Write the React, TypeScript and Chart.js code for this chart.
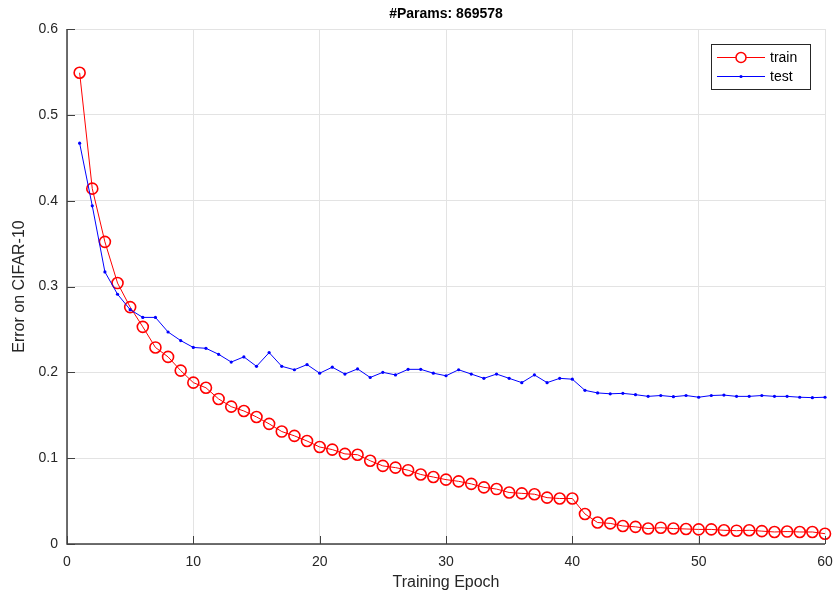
import React, { useEffect, useRef } from "react";
import { Chart, registerables } from "chart.js";

Chart.register(...registerables);

const epochs = [
  1, 2, 3, 4, 5, 6, 7, 8, 9, 10, 11, 12, 13, 14, 15, 16, 17, 18, 19, 20,
  21, 22, 23, 24, 25, 26, 27, 28, 29, 30, 31, 32, 33, 34, 35, 36, 37, 38, 39, 40,
  41, 42, 43, 44, 45, 46, 47, 48, 49, 50, 51, 52, 53, 54, 55, 56, 57, 58, 59, 60,
];

const trainError = [
  0.549, 0.414, 0.352, 0.304, 0.276, 0.253, 0.229, 0.218, 0.202, 0.188,
  0.182, 0.169, 0.160, 0.155, 0.148, 0.140, 0.131, 0.126, 0.120, 0.113,
  0.110, 0.105, 0.104, 0.097, 0.091, 0.089, 0.086, 0.081, 0.078, 0.075,
  0.073, 0.070, 0.066, 0.064, 0.060, 0.059, 0.058, 0.054, 0.053, 0.053,
  0.035, 0.025, 0.024, 0.021, 0.020, 0.018, 0.019, 0.018, 0.0175, 0.017,
  0.017, 0.016, 0.0155, 0.016, 0.015, 0.014, 0.0145, 0.014, 0.014, 0.012,
];

const testError = [
  0.467, 0.394, 0.317, 0.291, 0.273, 0.264, 0.264, 0.247, 0.237, 0.229,
  0.228, 0.221, 0.212, 0.218, 0.207, 0.223, 0.207, 0.203, 0.209, 0.199,
  0.206, 0.198, 0.204, 0.194, 0.200, 0.197, 0.2035, 0.2035, 0.199, 0.196,
  0.203, 0.198, 0.193, 0.198, 0.193, 0.188, 0.197, 0.188, 0.193, 0.192,
  0.179, 0.176, 0.175, 0.1755, 0.174, 0.172, 0.173, 0.1716, 0.173, 0.171,
  0.173, 0.1735, 0.172, 0.172, 0.173, 0.172, 0.172, 0.171, 0.1705, 0.171,
];

const xTicks = [0, 10, 20, 30, 40, 50, 60];
const yTicks = [0, 0.1, 0.2, 0.3, 0.4, 0.5, 0.6];

const titleText = "#Params: 869578";
const xLabel = "Training Epoch";
const yLabel = "Error on CIFAR-10";
const seriesNames = ["train", "test"];

const FONT = "'Liberation Sans', Arial, Helvetica, sans-serif";
const TEXT = "#262626";

const decorPlugin = {
  id: "decor",
  afterDraw(chart: any) {
    const ctx = chart.ctx as CanvasRenderingContext2D;
    const area = chart.chartArea;
    const xs = chart.scales.x;
    const ys = chart.scales.y;
    ctx.save();
    // axis lines
    ctx.strokeStyle = "#404040";
    ctx.lineWidth = 1.5;
    ctx.beginPath();
    ctx.moveTo(area.left, area.top);
    ctx.lineTo(area.left, area.bottom);
    ctx.lineTo(area.right, area.bottom);
    ctx.stroke();
    // inward ticks
    ctx.lineWidth = 1;
    ctx.strokeStyle = "#404040";
    ctx.beginPath();
    for (const v of yTicks) {
      const py = Math.round(ys.getPixelForValue(v)) + 0.5;
      ctx.moveTo(area.left, py);
      ctx.lineTo(area.left + 8, py);
    }
    for (const v of xTicks) {
      const px = Math.round(xs.getPixelForValue(v)) + 0.5;
      ctx.moveTo(px, area.bottom);
      ctx.lineTo(px, area.bottom - 8);
    }
    ctx.stroke();
    // title
    ctx.fillStyle = "#000";
    ctx.font = `bold 14px ${FONT}`;
    ctx.textAlign = "center";
    ctx.textBaseline = "middle";
    ctx.fillText(titleText, (area.left + area.right) / 2, 14);
    // axis titles
    ctx.fillStyle = TEXT;
    ctx.font = `16px ${FONT}`;
    ctx.fillText(xLabel, (area.left + area.right) / 2, 583);
    ctx.save();
    ctx.translate(20, (area.top + area.bottom) / 2);
    ctx.rotate(-Math.PI / 2);
    ctx.fillText(yLabel, 0, 0);
    ctx.restore();
    // legend
    const bx = 711, by = 44, bw = 99, bh = 45;
    ctx.fillStyle = "#fff";
    ctx.fillRect(bx, by, bw, bh);
    ctx.strokeStyle = "#262626";
    ctx.lineWidth = 1;
    ctx.strokeRect(bx + 0.5, by + 0.5, bw, bh);
    const rows = [
      { y: 57, color: "#ff0000", marker: "circle" },
      { y: 76, color: "#0000ff", marker: "dot" },
    ];
    rows.forEach((r, i) => {
      ctx.strokeStyle = r.color;
      ctx.lineWidth = 1;
      ctx.beginPath();
      ctx.moveTo(717, r.y + 0.5);
      ctx.lineTo(765, r.y + 0.5);
      ctx.stroke();
      if (r.marker === "circle") {
        ctx.lineWidth = 1.5;
        ctx.beginPath();
        ctx.arc(741, r.y + 0.5, 5, 0, Math.PI * 2);
        ctx.fillStyle = "#fff";
        ctx.fill();
        ctx.stroke();
      } else {
        ctx.fillStyle = r.color;
        ctx.beginPath();
        ctx.arc(741, r.y + 0.5, 1.6, 0, Math.PI * 2);
        ctx.fill();
      }
      ctx.fillStyle = "#000";
      ctx.font = `14px ${FONT}`;
      ctx.textAlign = "left";
      ctx.textBaseline = "middle";
      ctx.fillText(seriesNames[i], 770, r.y + 1);
    });
    ctx.restore();
  },
};

export default function App() {
  const ref = useRef<HTMLCanvasElement | null>(null);
  useEffect(() => {
    document.body.style.margin = "0";
    const canvas = ref.current!;
    const chart = new Chart(canvas, {
      type: "line",
      data: {
        datasets: [
          {
            label: seriesNames[0],
            data: epochs.map((e, i) => ({ x: e, y: trainError[i] })),
            borderColor: "#ff0000",
            borderWidth: 1,
            pointStyle: "circle",
            pointRadius: 5.5,
            pointBorderWidth: 1.6,
            pointBorderColor: "#ff0000",
            pointBackgroundColor: "rgba(0,0,0,0)",
            tension: 0,
            fill: false,
            clip: false,
            order: 2,
          },
          {
            label: seriesNames[1],
            data: epochs.map((e, i) => ({ x: e, y: testError[i] })),
            borderColor: "#0000ff",
            borderWidth: 1,
            pointStyle: "circle",
            pointRadius: 1.6,
            pointBorderWidth: 0,
            pointBackgroundColor: "#0000ff",
            tension: 0,
            fill: false,
            clip: false,
            order: 1,
          },
        ],
      },
      options: {
        animation: false,
        responsive: false,
        layout: { padding: { top: 29, right: 12, left: 0, bottom: 0 } },
        plugins: {
          legend: { display: false },
          title: { display: false },
          tooltip: { enabled: false },
        },
        scales: {
          x: {
            type: "linear",
            min: 0,
            max: 60,
            afterBuildTicks: (s: any) => {
              s.ticks = xTicks.map((v) => ({ value: v }));
            },
            afterFit: (s: any) => {
              s.height = 55;
              s.paddingLeft = 0;
              s.paddingRight = 0;
            },
            grid: { color: "#e3e3e3", lineWidth: 1, drawTicks: false },
            border: { display: false },
            ticks: {
              padding: 10,
              color: TEXT,
              font: { family: FONT, size: 14 },
              maxRotation: 0,
              callback: (v: any) => String(v),
            },
          },
          y: {
            min: 0,
            max: 0.6,
            afterBuildTicks: (s: any) => {
              s.ticks = yTicks.map((v) => ({ value: v }));
            },
            afterFit: (s: any) => {
              s.width = 67;
              s.paddingTop = 0;
              s.paddingBottom = 0;
            },
            grid: { color: "#e3e3e3", lineWidth: 1, drawTicks: false },
            border: { display: false },
            ticks: {
              padding: 9,
              color: TEXT,
              font: { family: FONT, size: 14 },
              callback: (v: any) => String(Math.round(v * 10) / 10),
            },
          },
        },
      },
      plugins: [decorPlugin],
    });
    return () => chart.destroy();
  }, []);
  return (
    <div style={{ width: 837, height: 599 }}>
      <canvas ref={ref} width={837} height={599} style={{ display: "block" }} />
    </div>
  );
}
